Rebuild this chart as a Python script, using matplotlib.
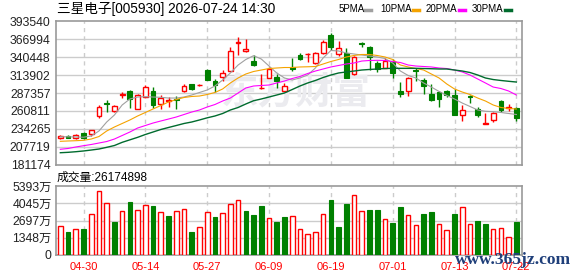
import matplotlib
matplotlib.use("Agg")
import matplotlib.pyplot as plt
from matplotlib.lines import Line2D
import numpy as np

plt.rcParams["font.family"] = ["Liberation Sans", "Noto Sans CJK SC"]

title = "三星电子[005930] 2026-07-24 14:30"
vol_title = "成交量:26174898"

opens = [220200, 223600, 220700, 227600, 227100, 252800, 272500, 260200, 284400, 290300,
         264100, 281400, 290800, 270600, 276000, 279000, 290800, 300700, 298700, 321900,
         305600, 310600, 320400, 360900, 349600, 335200, 294300, 310100, 310600, 290800,
         325400, 343600, 344600, 332300, 346100, 373300, 344600, 346100, 315500, 361400,
         356000, 331800, 324900, 335200, 290300, 289800, 321400, 306100, 285900, 288800,
         289800, 284900, 255200, 283400, 264100, 240900, 246900, 275000, 265600, 264600]
highs = [225600, 225100, 226100, 229600, 233000, 269100, 277000, 269100, 288800, 292300,
         285900, 298700, 296200, 283900, 281900, 282400, 300200, 300700, 301200, 323400,
         307600, 321900, 355000, 370300, 367800, 343100, 315500, 325400, 315500, 301700,
         339200, 346100, 347100, 348600, 365900, 376700, 364900, 353500, 342200, 363400,
         357000, 334300, 339200, 337200, 303600, 310600, 324400, 309600, 301200, 289800,
         292300, 293800, 269100, 284900, 266600, 257700, 259700, 276500, 271500, 267100]
lows = [218700, 220200, 219200, 219700, 223200, 250300, 259700, 259200, 279900, 265100,
        263100, 280900, 264600, 264100, 266100, 264100, 288800, 292300, 297700, 306600,
        288800, 304600, 319400, 343100, 348600, 326800, 293800, 309100, 294800, 290300,
        320400, 336200, 333800, 330800, 345100, 351000, 342200, 309100, 314000, 355000,
        321900, 318000, 323900, 309600, 281900, 283400, 304600, 286400, 275000, 266600,
        281400, 254300, 246400, 272000, 252300, 240900, 243900, 259200, 261200, 246400]
closes = [224100, 220700, 224600, 220200, 232000, 266100, 271100, 267600, 285400, 278500,
          283900, 295700, 269600, 279900, 277500, 277600, 298200, 293800, 299700, 306600,
          299200, 317000, 349100, 362900, 352500, 329300, 295200, 322900, 304600, 298200,
          322400, 338200, 345600, 347100, 363400, 356000, 353500, 310100, 340200, 360400,
          341200, 323400, 334700, 316500, 285900, 309100, 319900, 297200, 277500, 279000,
          284400, 255200, 261700, 280900, 255200, 242400, 258200, 261700, 266600, 249800]

ma5 = [222600, 222500, 222200, 221900, 223700, 231100, 244400, 254800, 269600, 278500,
       281400, 281900, 281400, 281000, 279900, 279900, 281400, 284400, 288100, 291800,
       297700, 306600, 317000, 328800, 337000, 342600, 337700, 327300, 317000, 309600,
       306600, 309600, 314000, 324400, 339200, 350300, 349600, 346600, 345100, 343600,
       342100, 340700, 338400, 331800, 319900, 313300, 309600, 302200, 296200, 289600,
       283700, 278500, 272500, 267400, 262200, 260300, 259700, 258500, 257000, 255500]
ma10 = [215800, 216300, 216700, 217300, 219200, 222900, 231100, 237000, 242200, 247400,
        253300, 258500, 263700, 268800, 274000, 277700, 280700, 282200, 282900, 285100,
        288100, 293300, 302200, 309600, 315500, 319200, 321400, 323600, 324400, 325100,
        325100, 325900, 326200, 326600, 330300, 334000, 337000, 340700, 342900, 344400,
        344400, 342900, 340700, 337000, 328800, 325900, 323600, 321400, 315500, 309600,
        300700, 293300, 288800, 285100, 279900, 275500, 269600, 265900, 264400, 263700]
ma20 = [204000, 205200, 207400, 209300, 211100, 213300, 215500, 219200, 224400, 229600,
        235500, 239200, 242900, 245900, 248800, 251800, 255500, 259200, 262200, 266600,
        270300, 275500, 279900, 287400, 294800, 297700, 298500, 299200, 302200, 305100,
        308800, 311800, 316200, 319900, 322900, 325900, 328100, 330300, 331800, 334700,
        335500, 335800, 335500, 334000, 332500, 328800, 327300, 326600, 325900, 324400,
        323600, 321400, 318500, 314000, 308100, 302200, 296200, 294000, 290300, 284400]
ma30 = [198900, 199500, 200400, 201500, 202900, 204400, 206900, 209600, 214300, 218000,
        221700, 225900, 229600, 233300, 236300, 239200, 242200, 244400, 247400, 250600,
        253300, 257000, 262200, 265900, 271100, 275900, 278500, 281400, 284400, 287400,
        292500, 297700, 302200, 305900, 310300, 314000, 317000, 318500, 319900, 321400,
        322200, 322900, 323600, 323900, 323900, 323900, 323900, 323600, 323300, 322900,
        322900, 321400, 319900, 317700, 314000, 309600, 307300, 305900, 304700, 303600]

# 成交量 (万)
volumes = [2236, 1789, 1999, 2026, 3183, 4998, 4051, 2578, 3420, 4157,
           3499, 3894, 3841, 3341, 3052, 3420, 3578, 1789, 2157, 3341,
           2973, 3262, 3972, 4288, 3446, 3131, 3841, 2868, 2578, 2973,
           3025, 1999, 1605, 1763, 3183, 4314, 2184, 3999, 4683, 3420,
           3525, 3525, 2789, 2499, 3762, 3104, 2315, 3210, 3367, 2394,
           1920, 3210, 3736, 2394, 2657, 2420, 1999, 2078, 1394, 2617.4898]

price_ticks = [181174, 207719, 234265, 260811, 287357, 313902, 340448, 366994, 393540]
vol_ticks = [0, 1348.25, 2696.5, 4044.75, 5393]
vol_labels = ["0", "1348万", "2697万", "4045万", "5393万"]
date_pos = [3, 11, 19, 27, 35, 43, 51, 59]
date_labels = ["04-30", "05-14", "05-27", "06-09", "06-19", "07-01", "07-13", "07-22"]

RED = "#ff0000"
GREEN = "#008000"
W, H = 578, 276

fig = plt.figure(figsize=(W / 100, H / 100), dpi=100)
ax = fig.add_axes([56 / W, 1 - 164.7 / H, 466 / W, 143.4 / H])
axv = fig.add_axes([56 / W, 1 - 254.7 / H, 466 / W, 68.4 / H])

o, h, l, c = map(np.array, (opens, highs, lows, closes))
x = np.arange(len(c))
up = c >= o

ax.vlines(x, l, h, colors=np.where(up, RED, GREEN), lw=1, zorder=3)
lo = np.minimum(o, c)
ht = np.maximum(np.abs(c - o), 250)
ax.bar(x[up], ht[up], bottom=lo[up], width=0.62, facecolor="white",
       edgecolor=RED, lw=1, zorder=4)
ax.bar(x[~up], ht[~up], bottom=lo[~up], width=0.62, facecolor=GREEN,
       edgecolor=GREEN, lw=0.8, zorder=4)

ax.plot(x, ma5, color="#a0a0a0", lw=0.8, zorder=5)
ax.plot(x, ma10, color="#f5a300", lw=0.8, zorder=5)
ax.plot(x, ma20, color="#ff00ff", lw=0.8, zorder=5)
ax.plot(x, ma30, color="#006b2e", lw=1.0, zorder=5)

ax.text(0.515, 0.5, "东方财富", transform=ax.transAxes, ha="center", va="center",
        fontsize=27, fontweight="bold", color="#ebebef", family="Noto Sans CJK SC",
        zorder=1)

# 成交量 colour follows the change of close
chg = np.diff(c, prepend=c[0])
vup = chg >= 0
v = np.array(volumes)
axv.bar(x[vup], v[vup], width=0.6, facecolor="white", edgecolor=RED, lw=1, zorder=3)
axv.bar(x[~vup], v[~vup], width=0.6, facecolor=GREEN, edgecolor=GREEN, lw=0.8, zorder=3)

for a in (ax, axv):
    a.set_xlim(-0.56, 59.73)
    for s in a.spines.values():
        s.set_color("#999999")
        s.set_linewidth(1.2)
    a.tick_params(length=0, labelsize=8.8, colors="#222222")
    a.set_xticks(date_pos)
    for p in date_pos:
        a.axvline(p, color="#cccccc", lw=1, ls=(0, (3, 3)), zorder=0)

ax.set_ylim(price_ticks[0], price_ticks[-1])
ax.set_yticks(price_ticks)
ax.set_yticklabels([str(t) for t in price_ticks])
ax.set_xticklabels([])
for t in price_ticks[1:-1]:
    ax.axhline(t, color="#cccccc", lw=1, zorder=0)
ax.tick_params(axis="y", pad=4)

axv.set_ylim(0, 5393)
axv.set_yticks(vol_ticks)
axv.set_yticklabels(vol_labels)
for t in vol_ticks[1:-1]:
    axv.axhline(t, color="#cccccc", lw=1, zorder=0)
axv.set_xticklabels(date_labels, color=RED, fontsize=8)
axv.tick_params(axis="x", pad=5)
axv.tick_params(axis="y", pad=3)

fig.text(57 / W, 1 - 8.7 / H, title, fontsize=9.8, va="center", ha="left")
fig.text(57 / W, 1 - 177.5 / H, vol_title, fontsize=8.5, va="center", ha="left")

legend = [("5PMA", 338.7, 364.7, "#a0a0a0"), ("10PMA", 380, 413, "#f5a300"),
          ("20PMA", 425.7, 459, "#ff00ff"), ("30PMA", 471.3, 505, "#006b2e")]
for name, tx, mx, col in legend:
    fig.text(tx / W, 1 - 9.2 / H, name, fontsize=7, va="center", ha="left")
    fig.add_artist(Line2D([mx / W, (mx + 6) / W], [1 - 9.5 / H, 1 - 9.5 / H],
                          color=col, lw=2.5, transform=fig.transFigure))

fig.text(513 / W, 1 - 260.5 / H, "www.365jz.com", fontsize=12.5, fontweight="bold",
         family="Liberation Serif", color="#1f3f7a", ha="center", va="center", zorder=10)

fig.savefig("out.png", dpi=100)
